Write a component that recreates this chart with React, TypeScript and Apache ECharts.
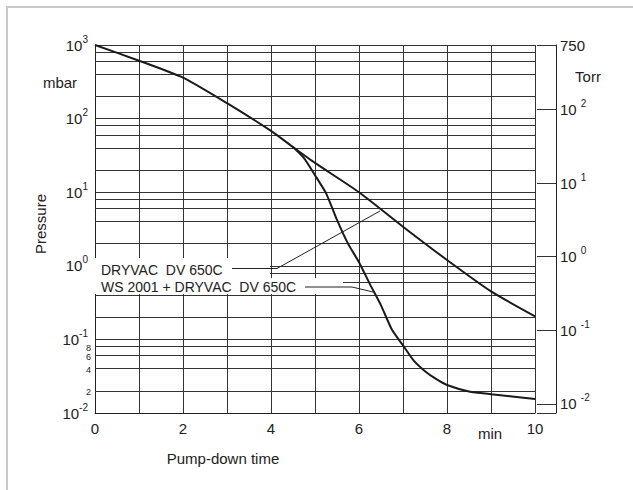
import React, { useEffect, useRef } from 'react';
import * as echarts from 'echarts';

// Curve: DRYVAC DV 650C (minutes, mbar)
const timeA = [0, 1, 2, 3, 4, 4.5, 5, 6, 7, 8, 9, 10];
const pressureA = [1000, 612, 360, 162, 68, 41, 25, 10, 3.4, 1.2, 0.45, 0.206];

// Curve: WS 2001 + DRYVAC DV 650C (minutes, mbar)
const timeB = [4.5, 4.75, 5, 5.25, 5.5, 5.75, 6, 6.25, 6.5, 6.75, 7, 7.25, 7.5, 7.75, 8, 8.5, 9, 10];
const pressureB = [41, 29, 17, 9.7, 4.2, 2.0, 1.12, 0.56, 0.29, 0.135, 0.083, 0.051, 0.037, 0.029, 0.024, 0.0196, 0.018, 0.0155];

// Axis ranges / ticks
const mbarMin = 0.01;
const mbarMax = 1000;
const MBAR_TO_TORR = 0.750062;
const minorGrid = [0.02, 0.04, 0.06, 0.08, 0.2, 0.4, 0.6, 0.8, 2, 4, 6, 8, 20, 40, 60, 80, 200, 400, 600, 800];
const labelledMinor = [0.02, 0.04, 0.06, 0.08];
const minorLabelText = ['2', '4', '6', '8'];
const xLabelled = [0, 2, 4, 6, 8, 10];

const labelA = 'DRYVAC  DV 650C';
const labelB = 'WS 2001 + DRYVAC  DV 650C';

const FONT = "'Liberation Sans', Arial, Helvetica, sans-serif";
const INK = '#222';

export default function App() {
  const ref = useRef<HTMLDivElement>(null);
  useEffect(() => {
    const chart = echarts.init(ref.current!, null, { renderer: 'svg' });
    const rich = {
      b: { fontSize: 15, fontFamily: FONT, color: INK, lineHeight: 22 },
      s: { fontSize: 10, fontFamily: FONT, color: INK, verticalAlign: 'top' },
    };
    const powLabel = (v: number) => {
      const k = Math.round(Math.log10(v));
      return `{b|10}{s|${k}}`;
    };
    const torrLabel = (v: number) => {
      if (v < 0.009) return '';
      if (v > 500) return '{b|750}';
      const k = Math.round(Math.log10(v));
      return `{b|10 }{s|${k}}`;
    };
    chart.setOption({
      animation: false,
      backgroundColor: '#fff',
      grid: { left: 95, right: 98, top: 45, bottom: 77 },
      xAxis: {
        type: 'value',
        min: 0,
        max: 10,
        interval: 1,
        axisLine: { show: true, lineStyle: { color: INK, width: 1 } },
        axisTick: { show: false },
        splitLine: { show: true, lineStyle: { color: '#333', width: 1 } },
        axisLabel: {
          formatter: (v: number) => (xLabelled.includes(v) ? String(v) : ''),
          fontSize: 15,
          fontFamily: FONT,
          color: INK,
          margin: 8,
        },
      },
      yAxis: [
        {
          type: 'log',
          logBase: 10,
          min: mbarMin,
          max: mbarMax,
          axisLine: { show: true, lineStyle: { color: INK, width: 1 } },
          axisTick: { show: false },
          splitLine: { show: true, lineStyle: { color: '#333', width: 1 } },
          axisLabel: { formatter: powLabel, rich, margin: 7 },
        },
        {
          type: 'log',
          logBase: 10,
          min: mbarMin * MBAR_TO_TORR,
          max: mbarMax * MBAR_TO_TORR,
          position: 'right',
          offset: 21,
          axisLine: { show: true, onZero: false, lineStyle: { color: INK, width: 1 } },
          axisTick: { show: true, inside: true, length: 19, lineStyle: { color: '#333', width: 1 } },
          splitLine: { show: false },
          axisLabel: { formatter: torrLabel, rich, margin: 4, showMinLabel: true, showMaxLabel: true },
        },
      ],
      series: [
        {
          type: 'line',
          name: labelA,
          data: timeA.map((t, i) => [t, pressureA[i]]),
          symbol: 'none',
          smooth: 0.2,
          z: 3,
          lineStyle: { color: '#1a1a1a', width: 2 },
          markLine: {
            silent: true,
            symbol: 'none',
            z: 1,
            animation: false,
            lineStyle: { color: '#333', width: 1, type: 'solid' },
            label: { show: false },
            emphasis: { disabled: true },
            data: minorGrid.map((v) => {
              const idx = labelledMinor.indexOf(v);
              return {
                yAxis: v,
                label:
                  idx >= 0
                    ? {
                        show: true,
                        position: 'start',
                        formatter: minorLabelText[idx],
                        fontSize: 9,
                        lineHeight: 9,
                        fontFamily: FONT,
                        color: INK,
                        distance: 4,
                        offset: [0, 1.5],
                      }
                    : { show: false },
              };
            }),
          },
        },
        {
          type: 'line',
          name: labelB,
          data: timeB.map((t, i) => [t, pressureB[i]]),
          symbol: 'none',
          smooth: 0.2,
          z: 3,
          lineStyle: { color: '#1a1a1a', width: 2 },
        },
      ],
      graphic: [
        {
          type: 'rect', z: 100, silent: true,
          shape: { x: 7, y: 7, width: 700, height: 600 },
          style: { fill: 'none', stroke: '#c8c8c8', lineWidth: 2 },
        },
        { type: 'rect', z: 100, silent: true, shape: { x: 93, y: 258, width: 177, height: 20 }, style: { fill: '#fff' } },
        { type: 'rect', z: 100, silent: true, shape: { x: 93, y: 278, width: 250, height: 16 }, style: { fill: '#fff' } },
        {
          type: 'text', z: 101, x: 101, y: 270,
          style: { text: labelA, fontSize: 14, fontFamily: FONT, fill: INK, textAlign: 'left', textVerticalAlign: 'middle' },
        },
        {
          type: 'text', z: 101, x: 101, y: 287,
          style: { text: labelB, fontSize: 14, fontFamily: FONT, fill: INK, textAlign: 'left', textVerticalAlign: 'middle' },
        },
        {
          type: 'polyline', z: 101, silent: true,
          shape: { points: [[232, 268.5], [277, 268.5], [380, 211]] },
          style: { stroke: INK, lineWidth: 1, fill: 'none' },
        },
        {
          type: 'polyline', z: 101, silent: true,
          shape: { points: [[305, 287], [352, 287], [373, 292]] },
          style: { stroke: INK, lineWidth: 1, fill: 'none' },
        },
        {
          type: 'text', z: 101, x: 60, y: 82,
          style: { text: 'mbar', fontSize: 15, fontFamily: FONT, fill: INK, textAlign: 'center', textVerticalAlign: 'middle' },
        },
        {
          type: 'text', z: 101, x: 588, y: 76,
          style: { text: 'Torr', fontSize: 15, fontFamily: FONT, fill: INK, textAlign: 'center', textVerticalAlign: 'middle' },
        },
        {
          type: 'text', z: 101, x: 40, y: 224, rotation: Math.PI / 2,
          style: { text: 'Pressure', fontSize: 15, fontFamily: FONT, fill: INK, textAlign: 'center', textVerticalAlign: 'middle' },
        },
        {
          type: 'text', z: 101, x: 223, y: 458,
          style: { text: 'Pump-down time', fontSize: 15, fontFamily: FONT, fill: INK, textAlign: 'center', textVerticalAlign: 'middle' },
        },
        {
          type: 'text', z: 101, x: 490, y: 433,
          style: { text: 'min', fontSize: 15, fontFamily: FONT, fill: INK, textAlign: 'center', textVerticalAlign: 'middle' },
        },
      ],
    });
    return () => chart.dispose();
  }, []);
  return (
    <div
      ref={ref}
      style={{ position: 'absolute', left: 0, top: 0, width: 633, height: 490, background: '#fff' }}
    />
  );
}
